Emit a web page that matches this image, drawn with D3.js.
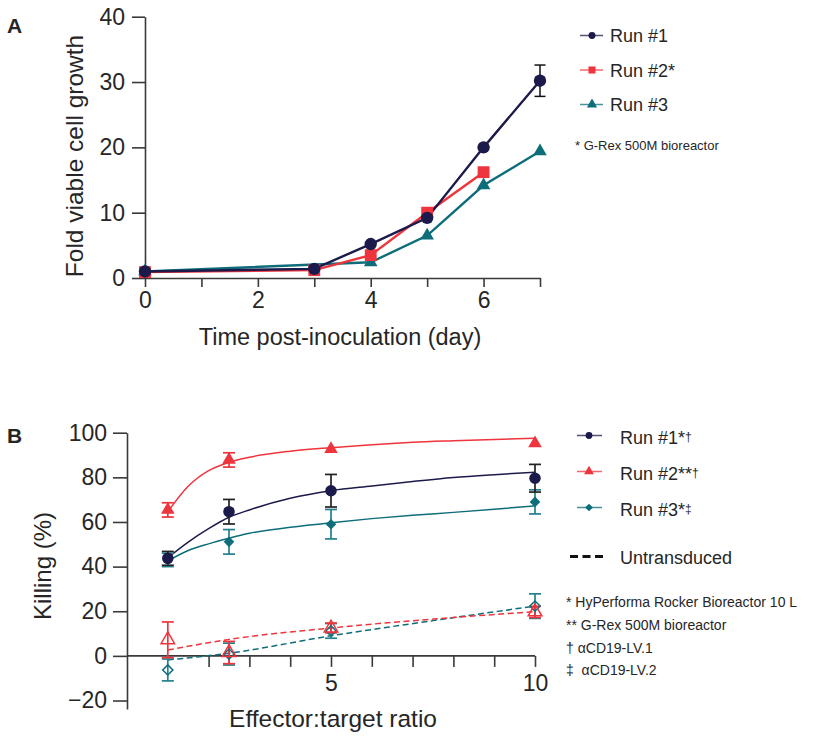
<!DOCTYPE html>
<html><head><meta charset="utf-8">
<script src="https://cdn.jsdelivr.net/npm/d3@7"></script>
<style>
body{margin:0;background:#fff}
svg{display:block}
text{font-family:"Liberation Sans",Arial,Helvetica,sans-serif;fill:#262626}
</style>
</head><body>
<svg id="c" width="823" height="736"></svg>
<script>
// ---------- Panel A data ----------
const daysRun1 = [0, 3, 4, 5, 6, 7];
const growthRun1 = [1.0, 1.4, 5.2, 9.2, 20.0, 30.2];
const growthRun1Err = [0, 0, 0, 0, 0, 2.4];
const daysRun2 = [0, 3, 4, 5, 6];
const growthRun2 = [0.9, 1.2, 3.5, 10.0, 16.2];
const daysRun3 = [0, 4, 5, 6, 7];
const growthRun3 = [1.0, 2.4, 6.5, 14.2, 19.4];
const dayTicks = [0, 1, 2, 3, 4, 5, 6, 7];
const dayTickLabels = [0, 2, 4, 6];
const growthTicks = [0, 10, 20, 30, 40];
const legendA = ["Run #1", "Run #2*", "Run #3"];
const footA = ["* G-Rex 500M bioreactor"];

// ---------- Panel B data ----------
const etRatios = [1, 2.5, 5, 10];
const killRun1 = [43.7, 64.6, 74.0, 79.6];
const killRun1Err = [3.1, 5.5, 7.3, 6.2];
const killRun2 = [65.4, 87.8, 92.7, 95.2];
const killRun2Err = [3.2, 3.2, 0, 0];
const killRun3 = [43.0, 51.1, 59.0, 69.0];
const killRun3Err = [3.0, 5.5, 6.6, 5.4];
const killUntr2 = [7.2, 1.5, 12.5, 19.7];
const killUntr2Err = [8.0, 5.0, 2.2, 2.5];
const killUntr3 = [-6.3, 0.8, 11.2, 22.3];
const killUntr3Err = [4.9, 4.9, 3.3, 5.5];
const fitX = [1, 1.5, 2, 2.5, 3, 4, 5, 6, 7, 8, 9, 10];
const fitRun1 = [44.0, 51.0, 57.0, 62.1, 65.4, 70.6, 74.0, 76.1, 78.1, 79.9, 81.2, 82.3];
const fitRun2 = [64.6, 76.0, 83.0, 86.7, 89.0, 91.7, 93.3, 94.6, 95.7, 96.4, 97.0, 97.5];
const fitRun3 = [42.5, 47.2, 50.2, 52.7, 54.9, 57.6, 59.7, 61.5, 63.0, 64.3, 65.7, 67.2];
const fitUntrX = [1, 2.5, 5, 7.5, 10];
const fitUntr2 = [2.6, 7.4, 12.5, 16.5, 19.8];
const fitUntr3 = [-1.8, 1.2, 9.0, 15.8, 22.3];
const ratioTicks = [2, 3, 4, 5, 6, 7, 8, 9, 10];
const ratioTickLabels = [5, 10];
const killTicks = [-20, 0, 20, 40, 60, 80, 100];
const legendB = [["Run #1*", "†"], ["Run #2**", "†"], ["Run #3*", "‡"]];
const footB = ["* HyPerforma Rocker Bioreactor 10 L", "** G-Rex 500M bioreactor", "† αCD19-LV.1", "‡  αCD19-LV.2"];

// ---------- styles ----------
const NAVY = "#1c1a4a", RED = "#ee343c", TEAL = "#0d6d7b";
const AXIS = "#3a3a3a";

const svg = d3.select("#c");

function styleAxis(g) {
  g.selectAll("path.domain").attr("stroke", AXIS).attr("stroke-width", 1.6);
  g.selectAll(".tick line").attr("stroke", AXIS).attr("stroke-width", 1.6);
  g.selectAll(".tick text").style("font-size", "23px").attr("fill", "#262626");
}

// ================= Panel A =================
const xA = d3.scaleLinear().domain([0, 7]).range([145, 540]);
const yA = d3.scaleLinear().domain([0, 40]).range([278, 16.7]);

svg.append("text").attr("x", 7).attr("y", 33).style("font-size", "21px").style("font-weight", "bold").attr("fill", "#111").text("A");

const gyA = svg.append("g").attr("transform", `translate(${xA(0)},0)`)
  .call(d3.axisLeft(yA).tickValues(growthTicks).tickSize(13).tickSizeOuter(0).tickPadding(7));
styleAxis(gyA);
const gxA = svg.append("g").attr("transform", `translate(0,${yA(0)})`)
  .call(d3.axisBottom(xA).tickValues(dayTicks).tickSize(9).tickSizeOuter(0).tickPadding(5)
    .tickFormat(d => dayTickLabels.includes(d) ? d : ""));
styleAxis(gxA);

svg.append("text").attr("x", 340).attr("y", 345).attr("text-anchor", "middle")
  .style("font-size", "23.5px").text("Time post-inoculation (day)");
svg.append("text").attr("transform", "translate(83,156) rotate(-90)").attr("text-anchor", "middle")
  .style("font-size", "24.5px").text("Fold viable cell growth");

const lineA = d3.line().x(d => xA(d[0])).y(d => yA(d[1]));
function seriesA(days, vals, color) {
  svg.append("path").datum(days.map((d, i) => [d, vals[i]]))
    .attr("d", lineA).attr("fill", "none").attr("stroke", color).attr("stroke-width", 2.4);
}
seriesA(daysRun3, growthRun3, TEAL);
seriesA(daysRun2, growthRun2, RED);
seriesA(daysRun1, growthRun1, NAVY);

svg.append("g").selectAll("path").data(daysRun3.map((d, i) => [d, growthRun3[i]])).join("path")
  .attr("transform", d => `translate(${xA(d[0])},${yA(d[1])})`)
  .attr("d", d3.symbol(d3.symbolTriangle, 80)()).attr("fill", TEAL);
svg.append("g").selectAll("path").data(daysRun2.map((d, i) => [d, growthRun2[i]])).join("path")
  .attr("transform", d => `translate(${xA(d[0])},${yA(d[1])})`)
  .attr("d", d3.symbol(d3.symbolSquare, 140)()).attr("fill", RED);
const errA = svg.append("g");
daysRun1.forEach((d, i) => {
  const e = growthRun1Err[i];
  if (!e) return;
  const x = xA(d), y1 = yA(growthRun1[i] + e), y2 = yA(growthRun1[i] - e);
  errA.append("line").attr("x1", x).attr("x2", x).attr("y1", y1).attr("y2", y2).attr("stroke", "#111").attr("stroke-width", 1.5);
  [y1, y2].forEach(y => errA.append("line").attr("x1", x - 5.5).attr("x2", x + 5.5).attr("y1", y).attr("y2", y).attr("stroke", "#111").attr("stroke-width", 1.5));
});
svg.append("g").selectAll("circle").data(daysRun1.map((d, i) => [d, growthRun1[i]])).join("circle")
  .attr("cx", d => xA(d[0])).attr("cy", d => yA(d[1])).attr("r", 6.2).attr("fill", NAVY);

// legend A
const legAy = [35.5, 70, 104.5];
const legAcol = [NAVY, RED, TEAL];
const legAsym = [d3.symbolCircle, d3.symbolSquare, d3.symbolTriangle];
const legAsize = [38, 50, 45];
legendA.forEach((t, i) => {
  const y = legAy[i];
  svg.append("line").attr("x1", 580).attr("x2", 603).attr("y1", y).attr("y2", y)
    .attr("stroke", legAcol[i]).attr("stroke-width", 1.5).attr("opacity", 0.75);
  svg.append("path").attr("transform", `translate(592,${y})`)
    .attr("d", d3.symbol(legAsym[i], legAsize[i])()).attr("fill", legAcol[i]);
  svg.append("text").attr("x", 610).attr("y", y + 6.5).style("font-size", "18px").text(t);
});
footA.forEach((t, i) => {
  svg.append("text").attr("x", 575).attr("y", 150 + i * 22).style("font-size", "13px").text(t);
});

// ================= Panel B =================
const xB = d3.scaleLinear().domain([0, 10]).range([127, 535]);
const yB = d3.scaleLinear().domain([-23.8, 100]).range([709, 432.7]);

svg.append("text").attr("x", 7).attr("y", 443).style("font-size", "21px").style("font-weight", "bold").attr("fill", "#111").text("B");

const gyB = svg.append("g").attr("transform", `translate(${xB(0)},0)`)
  .call(d3.axisLeft(yB).tickValues(killTicks).tickSize(14).tickSizeOuter(0).tickPadding(6)
    .tickFormat(d => d < 0 ? "\u2212" + Math.abs(d) : d));
styleAxis(gyB);
const gxB = svg.append("g").attr("transform", `translate(0,${yB(0)})`)
  .call(d3.axisBottom(xB).tickValues(ratioTicks).tickSize(11).tickSizeOuter(0).tickPadding(8)
    .tickFormat(d => ratioTickLabels.includes(d) ? d : ""));
styleAxis(gxB);
gxB.select("path.domain").attr("d", `M${xB(0)},0H${xB(10)}`);

svg.append("text").attr("x", 333).attr("y", 727).attr("text-anchor", "middle")
  .style("font-size", "24.5px").text("Effector:target ratio");
svg.append("text").attr("transform", "translate(51,566) rotate(-90)").attr("text-anchor", "middle")
  .style("font-size", "24px").text("Killing (%)");

const fitLine = d3.line().x(d => xB(d[0])).y(d => yB(d[1])).curve(d3.curveMonotoneX);
function fitPath(xs, ys, color, dashed) {
  svg.append("path").datum(xs.map((x, i) => [x, ys[i]])).attr("d", fitLine)
    .attr("fill", "none").attr("stroke", color).attr("stroke-width", 1.5)
    .attr("stroke-dasharray", dashed ? "6,3.5" : null);
}
function errBars(vals, errs, color) {
  const g = svg.append("g");
  etRatios.forEach((x, i) => {
    const e = errs[i];
    if (!e) return;
    const px = xB(x), y1 = yB(vals[i] + e), y2 = yB(vals[i] - e);
    g.append("line").attr("x1", px).attr("x2", px).attr("y1", y1).attr("y2", y2).attr("stroke", color).attr("stroke-width", 1.7);
    [y1, y2].forEach(y => g.append("line").attr("x1", px - 6).attr("x2", px + 6).attr("y1", y).attr("y2", y).attr("stroke", color).attr("stroke-width", 1.7));
  });
}
function marks(vals, sym, size, color, filled, rot) {
  svg.append("g").selectAll("path").data(etRatios.map((x, i) => [x, vals[i]])).join("path")
    .attr("transform", d => `translate(${xB(d[0])},${yB(d[1])})${rot ? " rotate(45)" : ""}`)
    .attr("d", d3.symbol(sym, size)())
    .attr("fill", filled ? color : "#fff").attr("fill-opacity", filled ? 1 : 0)
    .attr("stroke", filled ? "none" : color).attr("stroke-width", 1.5);
}

fitPath(fitUntrX, fitUntr3, TEAL, true);
fitPath(fitUntrX, fitUntr2, RED, true);
errBars(killUntr3, killUntr3Err, "#25808e");
errBars(killUntr2, killUntr2Err, RED);
marks(killUntr3, d3.symbolSquare, 52, TEAL, false, true);
marks(killUntr2, d3.symbolTriangle, 80, RED, false, false);

fitPath(fitX, fitRun3, TEAL, false);
fitPath(fitX, fitRun1, NAVY, false);
fitPath(fitX, fitRun2, RED, false);
errBars(killRun3, killRun3Err, "#25808e");
errBars(killRun2, killRun2Err, RED);
errBars(killRun1, killRun1Err, "#222");
marks(killRun3, d3.symbolSquare, 56, TEAL, true, true);
marks(killRun1, d3.symbolCircle, 105, NAVY, true, false);
marks(killRun2, d3.symbolTriangle, 80, RED, true, false);

// legend B
const legBy = [435.5, 471.5, 507.5];
const legBcol = [NAVY, RED, TEAL];
const legBsym = [d3.symbolCircle, d3.symbolTriangle, d3.symbolSquare];
const legBsize = [36, 42, 30];
legendB.forEach((t, i) => {
  const y = legBy[i];
  svg.append("line").attr("x1", 577).attr("x2", 602).attr("y1", y).attr("y2", y)
    .attr("stroke", legBcol[i]).attr("stroke-width", 1.5).attr("opacity", 0.75);
  svg.append("path").attr("transform", `translate(589,${y})${i === 2 ? " rotate(45)" : ""}`)
    .attr("d", d3.symbol(legBsym[i], legBsize[i])()).attr("fill", legBcol[i]);
  const tx = svg.append("text").attr("x", 620).attr("y", y + 8).style("font-size", "18px");
  tx.append("tspan").text(t[0]);
  tx.append("tspan").style("font-size", "12px").attr("dy", -3).text(t[1]);
});
svg.append("line").attr("x1", 570).attr("x2", 603).attr("y1", 556.5).attr("y2", 556.5)
  .attr("stroke", "#111").attr("stroke-width", 2.8).attr("stroke-dasharray", "8,4.5");
svg.append("text").attr("x", 620).attr("y", 564).style("font-size", "18px").text("Untransduced");
footB.forEach((t, i) => {
  svg.append("text").attr("x", 566).attr("y", 607 + i * 22.8).style("font-size", "14px")
    .style("white-space", "pre").text(t);
});
</script>
</body></html>
